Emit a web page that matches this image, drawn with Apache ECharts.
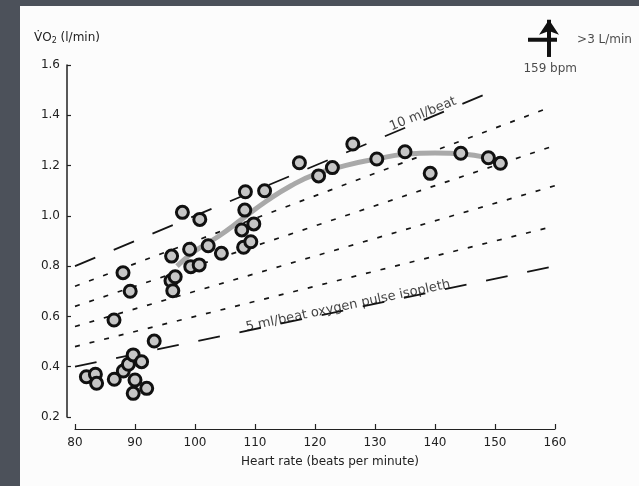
<!DOCTYPE html>
<html><head><meta charset="utf-8">
<script src="https://cdn.jsdelivr.net/npm/echarts@6/dist/echarts.min.js"></script>
<style>
html,body{margin:0;padding:0;background:#4c515a;width:639px;height:486px;overflow:hidden}
#panel{position:absolute;left:20px;top:6px;right:0;bottom:0;background:#fcfcfc}
#chart{position:absolute;left:0;top:0;width:639px;height:486px}
</style></head><body>
<div id="panel"></div><div id="chart"></div>
<script>
// measured points: heart rate (bpm) and VO2 (l/min)
const heartRate = [81.9,83.4,83.6,86.55,88.05,88.9,89.7,91.1,90.0,89.7,91.95,93.2,86.5,89.2,88.0,
  96.0,96.3,96.7,96.1,99.1,99.3,100.7,102.2,104.4,97.9,100.8,108.1,109.3,107.8,109.8,108.3,108.4,111.6,
  117.4,120.6,122.9,126.3,130.3,135.0,139.2,144.3,148.9,150.9];
const vo2 = [0.360,0.370,0.334,0.350,0.383,0.410,0.447,0.420,0.347,0.294,0.314,0.502,0.586,0.700,0.774,
  0.742,0.702,0.758,0.840,0.867,0.798,0.805,0.881,0.851,1.014,0.986,0.875,0.897,0.944,0.968,1.023,1.096,1.100,
  1.211,1.159,1.192,1.286,1.226,1.255,1.169,1.249,1.231,1.209];

// smoothed trend (grey curve)
const trendHR  = [97,100,104,108,112,116,120,125,130,135,140,145,151];
const trendVO2 = [0.80,0.86,0.92,0.99,1.06,1.12,1.165,1.20,1.225,1.245,1.25,1.245,1.215];

// oxygen pulse isopleths (ml/beat)
const isoML       = [5,6,7,8,9,10];
const isoStartHR  = [80,80,80,80,80,80];
const isoStartVO2 = [0.40,0.48,0.56,0.64,0.72,0.80];
const isoEndHR    = [160,160,160,160,159,151];
const isoEndVO2   = [0.80,0.96,1.12,1.28,1.43,1.51];

// isopleth labels
const isoLabelText = ['5 ml/beat oxygen pulse isopleth','10 ml/beat'];
const isoLabelHR   = [125.5,138.0];
const isoLabelVO2  = [0.642,1.405];

// off-scale marker (159 bpm, >3 L/min)
const offHR = 159;
const offArrowVO2 = [1.632,1.780];
const offBarHR = [155.5,162.2];
const offBarVO2 = 1.70;
const offTexts = ['>3 L/min','159 bpm'];
const offTextHR = [163.6,159.2];
const offTextVO2 = [1.70,1.584];

// axes
const xTicks = {min:80,max:160,interval:10};
const yTicks = {min:0.2,max:1.6,interval:0.2};

const FONT = 'DejaVu Sans';
const chart = echarts.init(document.getElementById('chart'), null, {renderer:'canvas'});

const isoSeries = isoML.map((ml,i)=>({
  type:'line', silent:true, z:1, symbol:'none', animation:false,
  data:[[isoStartHR[i],isoStartVO2[i]],[isoEndHR[i],isoEndVO2[i]]],
  lineStyle:{color:'#151515', width:(ml===5||ml===10)?1.8:1.7,
    type:(ml===5||ml===10)?[22,20]:[5,10]}
}));

const option = {
  backgroundColor:'transparent',
  animation:false,
  grid:{left:75,right:84,top:65,bottom:69,containLabel:false},
  xAxis:{
    type:'value', min:xTicks.min, max:xTicks.max, interval:xTicks.interval,
    offset:12,
    name:'Heart rate (beats per minute)', nameLocation:'middle', nameGap:27,
    nameTextStyle:{color:'#222', fontSize:12, fontFamily:FONT, padding:[0,0,0,30]},
    axisLine:{show:true,onZero:false,lineStyle:{color:'#222',width:1.2}},
    axisTick:{show:true,inside:true,length:5,lineStyle:{color:'#222',width:1.2}},
    axisLabel:{color:'#222',fontSize:12,fontFamily:FONT,margin:8},
    splitLine:{show:false}
  },
  yAxis:{
    type:'value', min:yTicks.min, max:yTicks.max, interval:yTicks.interval,
    offset:8,
    name:'V\u0307O{s|2} (l/min)', nameLocation:'end', nameGap:20,
    nameTextStyle:{color:'#222', fontSize:12, fontFamily:FONT, align:'center',
      rich:{s:{fontSize:8, fontFamily:FONT, color:'#222', verticalAlign:'bottom', padding:[6,0,0,0]}}},
    axisLine:{show:true,onZero:false,lineStyle:{color:'#222',width:1.5}},
    axisTick:{show:true,inside:true,length:4,lineStyle:{color:'#222',width:1.2}},
    axisLabel:{color:'#222',fontSize:12,fontFamily:FONT,margin:7,formatter:v=>v.toFixed(1)},
    splitLine:{show:false}
  },
  series:[
    ...isoSeries,
    {
      type:'line', smooth:0.5, symbol:'none', silent:true, z:2,
      data:trendHR.map((h,i)=>[h,trendVO2[i]]),
      lineStyle:{color:'#a9a9a9', width:5}
    },
    {
      type:'scatter', z:3, symbol:'circle', symbolSize:12,
      data:heartRate.map((h,i)=>[h,vo2[i]]),
      itemStyle:{color:'#c6c6c6', borderColor:'#111', borderWidth:3, opacity:1}
    },
    {
      type:'scatter', z:4, clip:false, silent:true, symbolSize:1,
      itemStyle:{color:'rgba(0,0,0,0)'},
      data:isoLabelText.map((t,i)=>({name:t, value:[isoLabelHR[i],isoLabelVO2[i]],
        label:{rotate: i===0 ? 12 : 22}})),
      label:{show:true, position:'inside', formatter:'{b}', color:'#111', fontSize:13, fontFamily:FONT}
    },
    {
      type:'lines', coordinateSystem:'cartesian2d', clip:false, silent:true, z:5,
      symbol:['none','arrow'], symbolSize:[1,15],
      lineStyle:{color:'#111', width:4, opacity:1, curveness:0},
      data:[{coords:[[offHR,offArrowVO2[0]],[offHR,offArrowVO2[1]]]}]
    },
    {
      type:'line', clip:false, silent:true, symbol:'none', z:5,
      data:[[offBarHR[0],offBarVO2],[offBarHR[1],offBarVO2]],
      lineStyle:{color:'#111', width:4}
    },
    {
      type:'scatter', z:5, clip:false, silent:true, symbolSize:1,
      itemStyle:{color:'rgba(0,0,0,0)'},
      data:offTexts.map((t,i)=>({name:t, value:[offTextHR[i],offTextVO2[i]],
        label:{position: i===0 ? 'right' : 'inside', distance:0}})),
      label:{show:true, formatter:'{b}', color:'#1c1c1c', fontSize:12, fontFamily:FONT}
    }
  ]
};
chart.setOption(option);
</script>
</body></html>
